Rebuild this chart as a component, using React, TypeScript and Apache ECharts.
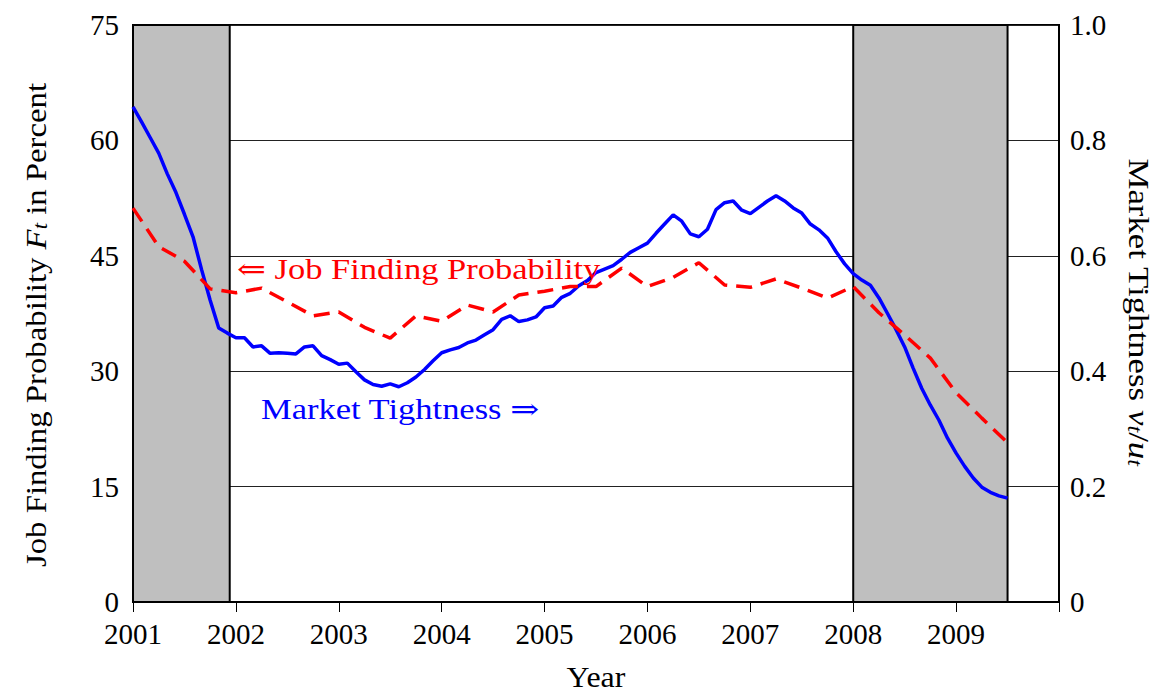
import React, { useEffect, useRef } from "react";
import * as echarts from "echarts";

// Monthly market tightness v/u, Jan 2001 ... Jul 2009 (right axis)
const tightnessStart = 2001;
const tightness = [
  0.858, 0.832, 0.805, 0.778, 0.742, 0.71, 0.672, 0.633, 0.576, 0.523, 0.475, 0.466,
  0.458, 0.458, 0.442, 0.444, 0.431, 0.432, 0.431, 0.43, 0.442, 0.444, 0.427, 0.42,
  0.412, 0.414, 0.399, 0.385, 0.377, 0.374, 0.378, 0.373, 0.38, 0.39, 0.403, 0.418,
  0.432, 0.437, 0.441, 0.449, 0.454, 0.463, 0.472, 0.49, 0.496, 0.486, 0.489, 0.494,
  0.51, 0.513, 0.528, 0.535, 0.548, 0.557, 0.571, 0.577, 0.583, 0.594, 0.606, 0.614,
  0.622, 0.639, 0.655, 0.671, 0.66, 0.638, 0.633, 0.646, 0.68, 0.692, 0.695, 0.679,
  0.673, 0.684, 0.695, 0.704, 0.695, 0.683, 0.674, 0.655, 0.645, 0.631, 0.607, 0.586,
  0.569, 0.558, 0.549, 0.527, 0.5, 0.472, 0.442, 0.405, 0.37, 0.341, 0.315, 0.284,
  0.258, 0.235, 0.215, 0.199, 0.19, 0.184, 0.18,
];

// Quarterly job finding probability in percent, 2001Q1 ... 2009Q3 (left axis)
const jobFindingStart = 2001;
const jobFinding = [
  51.2, 46.2, 44.3, 40.7,
  40.2, 40.8, 39.0, 37.2,
  37.7, 35.7, 34.3, 37.2,
  36.5, 38.6, 37.7, 39.9,
  40.4, 41.0, 41.0, 43.4,
  41.0, 42.2, 44.1, 41.2,
  40.9, 42.0, 40.8, 39.5,
  41.0, 37.6, 34.7, 31.7,
  27.2, 23.9, 20.7,
];

// Recession periods (shaded)
const recessions = [
  [2001.0, 2001.94],
  [2008.0, 2009.5],
];

const leftTicks = [0, 15, 30, 45, 60, 75];
const rightTicks = [0, 0.2, 0.4, 0.6, 0.8, 1.0];
const yearTicks = [2001, 2002, 2003, 2004, 2005, 2006, 2007, 2008, 2009, 2010];

const FONT = '"Liberation Serif", "DejaVu Serif", serif';

const richStyles = {
  i: { fontFamily: FONT, fontSize: 29, fontStyle: "italic", fill: "#000" },
  s: { fontFamily: FONT, fontSize: 20, fontStyle: "italic", fill: "#000", verticalAlign: "bottom", lineHeight: 10 },
};

export default function App() {
  const ref = useRef<HTMLDivElement>(null);

  useEffect(() => {
    document.documentElement.style.overflow = "hidden";
    document.body.style.margin = "0";
    document.body.style.overflow = "hidden";
    if (!ref.current) return;
    const chart = echarts.init(ref.current, undefined, { renderer: "svg" });

    const blueData = tightness.map((v, i) => [tightnessStart + i / 12, v]);
    const redData = jobFinding.map((v, i) => [jobFindingStart + i / 4, v]);

    const option: any = {
      animation: false,
      backgroundColor: "#ffffff",
      textStyle: { fontFamily: FONT },
      grid: {
        left: 133,
        right: 102,
        top: 25,
        bottom: 91,
        show: true,
        borderColor: "#000",
        borderWidth: 2,
        backgroundColor: "transparent",
      },
      xAxis: {
        type: "value",
        min: yearTicks[0],
        max: yearTicks[yearTicks.length - 1],
        interval: 1,
        axisLine: { show: true, lineStyle: { color: "#000", width: 2 } },
        axisTick: { show: true, inside: false, length: 10, lineStyle: { color: "#000", width: 1 } },
        axisLabel: {
          margin: 17,
          fontFamily: FONT,
          fontSize: 29,
          color: "#000",
          formatter: (v: number) => (v === 2010 ? "" : String(v)),
        },
        splitLine: { show: false },
      },
      yAxis: [
        {
          type: "value",
          position: "left",
          min: leftTicks[0],
          max: leftTicks[leftTicks.length - 1],
          interval: 15,
          axisLine: { show: true, lineStyle: { color: "#000", width: 2 } },
          axisTick: { show: false },
          axisLabel: { margin: 14, fontFamily: FONT, fontSize: 29, color: "#000" },
          splitLine: { show: true, lineStyle: { color: "#222", width: 1 } },
        },
        {
          type: "value",
          position: "right",
          min: rightTicks[0],
          max: rightTicks[rightTicks.length - 1],
          interval: 0.2,
          axisLine: { show: true, lineStyle: { color: "#000", width: 2 } },
          axisTick: { show: false },
          axisLabel: {
            margin: 11,
            fontFamily: FONT,
            fontSize: 29,
            color: "#000",
            formatter: (v: number) => (v === 0 ? "0" : v.toFixed(1)),
          },
          splitLine: { show: false },
        },
      ],
      series: [
        {
          type: "line",
          name: "recessions",
          xAxisIndex: 0,
          yAxisIndex: 0,
          data: [],
          z: 1,
          silent: true,
          markArea: {
            silent: true,
            itemStyle: { color: "#bfbfbf", borderColor: "#000", borderWidth: 2, opacity: 1 },
            data: recessions.map((r) => [{ xAxis: r[0] }, { xAxis: r[1] }]),
          },
        },
        {
          type: "line",
          name: "Market Tightness",
          yAxisIndex: 1,
          data: blueData,
          showSymbol: false,
          symbol: "none",
          z: 3,
          lineStyle: { color: "#0000ff", width: 3.5 },
          itemStyle: { color: "#0000ff" },
        },
        {
          type: "line",
          name: "Job Finding Probability",
          yAxisIndex: 0,
          data: redData,
          showSymbol: false,
          symbol: "none",
          z: 4,
          lineStyle: { color: "#ff0000", width: 3.5, type: [16, 9] },
          itemStyle: { color: "#ff0000" },
        },
      ],
      graphic: [
        {
          type: "text",
          x: 237,
          y: 269,
          scaleX: 1.19,
          z: 10,
          style: {
            text: "\u21D0 Job Finding Probability",
            fill: "#ff0000",
            font: `29px ${FONT}`,
            verticalAlign: "middle",
            align: "left",
          },
        },
        {
          type: "text",
          x: 261,
          y: 409,
          scaleX: 1.19,
          z: 10,
          style: {
            text: "Market Tightness \u21D2",
            fill: "#0000ff",
            font: `29px ${FONT}`,
            verticalAlign: "middle",
            align: "left",
          },
        },
        {
          type: "text",
          x: 36,
          y: 325,
          rotation: Math.PI / 2,
          scaleX: 1.13,
          style: {
            text: "Job Finding Probability {i|F}{s|t} in Percent",
            fill: "#000",
            font: `29px ${FONT}`,
            align: "center",
            verticalAlign: "middle",
            rich: richStyles,
          },
        },
        {
          type: "text",
          x: 1139,
          y: 312,
          rotation: -Math.PI / 2,
          scaleX: 1.2,
          style: {
            text: "Market Tightness {i|v}{s|t}/{i|u}{s|t}",
            fill: "#000",
            font: `29px ${FONT}`,
            align: "center",
            verticalAlign: "middle",
            rich: richStyles,
          },
        },
        {
          type: "text",
          x: 596,
          y: 677,
          scaleX: 1.1,
          style: {
            text: "Year",
            fill: "#000",
            font: `29px ${FONT}`,
            align: "center",
            verticalAlign: "middle",
          },
        },
      ],
    };

    chart.setOption(option);
    return () => chart.dispose();
  }, []);

  return (
    <div
      ref={ref}
      style={{ position: "fixed", left: 0, top: 0, width: 1161, height: 693, background: "#fff" }}
    />
  );
}
